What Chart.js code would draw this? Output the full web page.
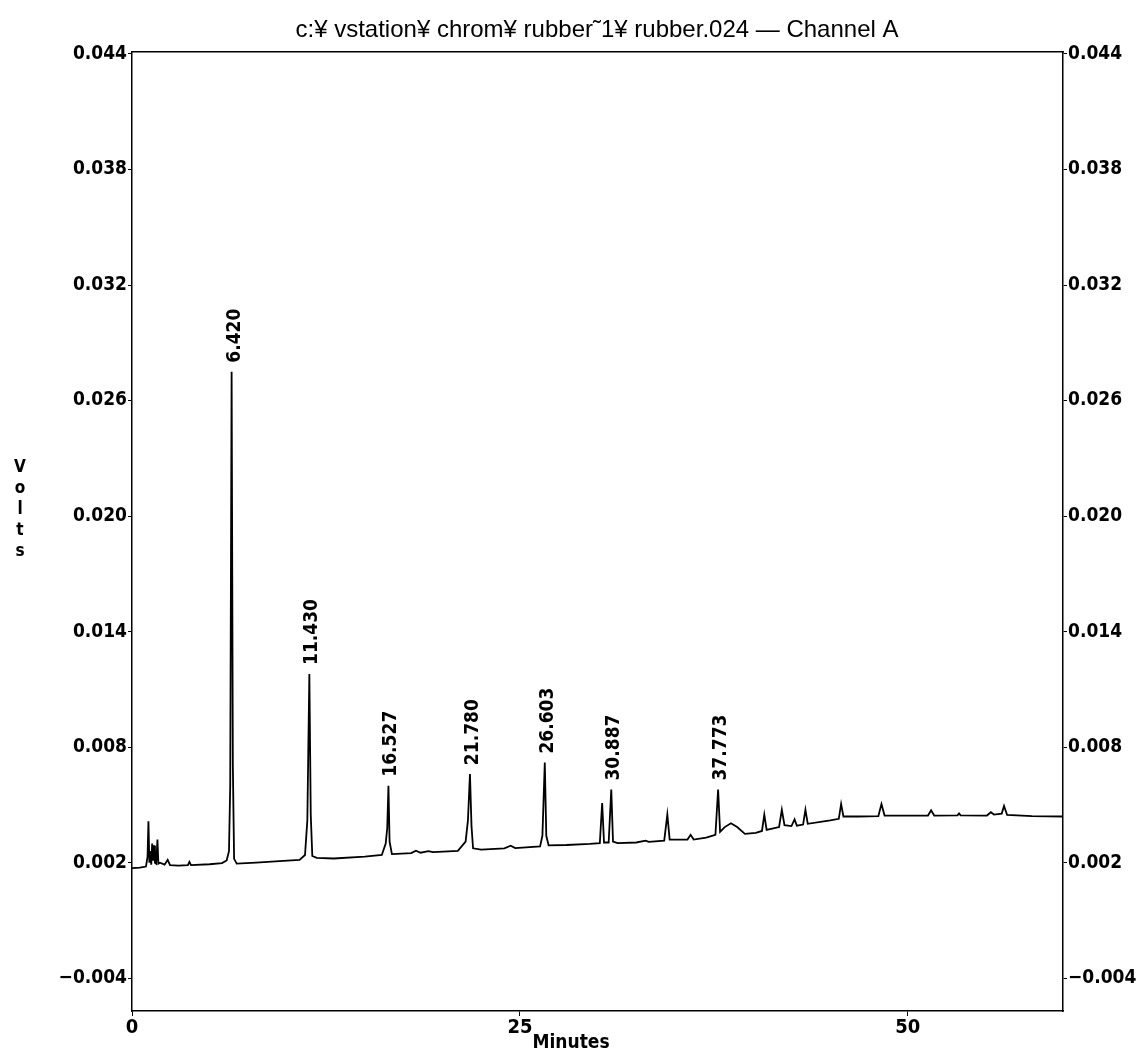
<!DOCTYPE html>
<html>
<head>
<meta charset="utf-8">
<title>rubber.024 — Channel A</title>
<script src="https://cdn.jsdelivr.net/npm/chart.js@4.4.1/dist/chart.umd.min.js"></script>
<style>
  html, body { margin: 0; padding: 0; background: #fff; }
  #wrap { width: 1148px; height: 1053px; }
</style>
</head>
<body>
<div id="wrap"><canvas id="chrom" width="1148" height="1053"></canvas></div>
<script>
// trace, minutes
var times = [
  0.00, 0.50, 0.90, 1.00, 1.06, 1.12, 1.18, 1.24, 1.30, 1.36, 1.42, 1.48, 1.56, 1.64, 1.70, 1.80,
  2.10, 2.30, 2.45, 3.00, 3.60, 3.70, 3.80, 5.00, 5.80,
  6.10, 6.25, 6.33, 6.420, 6.50, 6.58, 6.75, 8.00, 9.50,
  10.80, 11.15, 11.30, 11.430, 11.52, 11.62, 11.90, 13.00, 15.00,
  16.10, 16.35, 16.45, 16.527, 16.60, 16.75, 18.00, 18.30, 18.60, 19.10, 19.40,
  21.00, 21.50, 21.65, 21.780, 21.88, 21.98, 22.50, 24.00, 24.40, 24.70,
  26.30, 26.45, 26.603, 26.70, 26.85, 28.00, 29.50,
  30.15, 30.30, 30.42, 30.72, 30.887, 31.00, 31.30, 32.50, 33.10, 33.30,
  34.30, 34.50, 34.65, 35.80, 36.00, 36.20, 37.00, 37.60, 37.773, 37.90,
  38.20, 38.60, 39.00, 39.50, 40.20, 40.60, 40.75, 40.90, 41.70, 41.88, 42.05,
  42.50, 42.70, 42.85, 43.25, 43.40, 43.55, 45.00, 45.55, 45.70, 45.85, 46.80,
  48.10, 48.30, 48.50, 51.30, 51.50, 51.70, 53.20, 53.30, 53.40, 55.10, 55.35, 55.55,
  56.05, 56.20, 56.40, 58.00, 60.00
];
// volts, same order as times
var volts = [
  0.00172, 0.00175, 0.00180, 0.00230, 0.00415, 0.00200, 0.00260, 0.00190, 0.00300, 0.00210, 0.00290, 0.00200, 0.00195, 0.00320, 0.00195, 0.00200,
  0.00190, 0.00215, 0.00188, 0.00185, 0.00188, 0.00205, 0.00188, 0.00192, 0.00198,
  0.00212, 0.00260, 0.00600, 0.02750, 0.00700, 0.00220, 0.00195, 0.00200, 0.00208,
  0.00215, 0.00240, 0.00420, 0.01180, 0.00450, 0.00235, 0.00225, 0.00222, 0.00232,
  0.00240, 0.00300, 0.00380, 0.00600, 0.00310, 0.00245, 0.00250, 0.00262, 0.00252, 0.00260, 0.00255,
  0.00262, 0.00310, 0.00420, 0.00660, 0.00390, 0.00275, 0.00268, 0.00275, 0.00288, 0.00276,
  0.00285, 0.00340, 0.00720, 0.00340, 0.00290, 0.00292, 0.00298,
  0.00302, 0.00510, 0.00305, 0.00305, 0.00580, 0.00310, 0.00302, 0.00305, 0.00315, 0.00308,
  0.00315, 0.00450, 0.00320, 0.00320, 0.00345, 0.00320, 0.00330, 0.00345, 0.00580, 0.00360,
  0.00385, 0.00405, 0.00385, 0.00350, 0.00355, 0.00365, 0.00450, 0.00370, 0.00385, 0.00475, 0.00395,
  0.00390, 0.00425, 0.00392, 0.00398, 0.00475, 0.00402, 0.00420, 0.00428, 0.00505, 0.00440, 0.00440,
  0.00442, 0.00505, 0.00445, 0.00445, 0.00472, 0.00445, 0.00446, 0.00456, 0.00446, 0.00445, 0.00462, 0.00450,
  0.00455, 0.00495, 0.00448, 0.00442, 0.00440
];
// integrated peaks (retention times printed above them)
var peakTimes = [6.420, 11.430, 16.527, 21.780, 26.603, 30.887, 37.773];
var peakLabels = ['6.420', '11.430', '16.527', '21.780', '26.603', '30.887', '37.773'];

var xTicks = [0, 25, 50];
var yTicks = [-0.004, 0.002, 0.008, 0.014, 0.020, 0.026, 0.032, 0.038, 0.044];

var chartTitle = 'c:¥ vstation¥ chrom¥ rubber\u02dc1¥ rubber.024 — Channel A';
var FONT = "'DejaVu Sans Condensed', 'Liberation Sans', sans-serif";
var TITLE_FONT = "'Liberation Sans', Arial, sans-serif";

function voltLabel(v) {
  return (v < 0 ? '\u2212' : '') + Math.abs(v).toFixed(3);
}

var annotate = {
  id: 'annotate',
  afterDatasetsDraw: function(chart) {
    var ctx = chart.ctx, xs = chart.scales.x, ys = chart.scales.y;
    ctx.save();
    ctx.fillStyle = '#000';
    ctx.font = 'bold 19px ' + FONT;
    ctx.textAlign = 'left';
    ctx.textBaseline = 'middle';
    peakTimes.forEach(function(t, i) {
      var k = times.indexOf(t);
      var px = xs.getPixelForValue(t);
      var py = ys.getPixelForValue(volts[k]);
      ctx.save();
      ctx.translate(px + 3, py - 9);
      ctx.rotate(-Math.PI / 2);
      ctx.fillText(peakLabels[i], 0, 0);
      ctx.restore();
    });

    // title
    ctx.textAlign = 'center';
    ctx.font = '24px ' + TITLE_FONT;
    ctx.fillText(chartTitle, 597, 30);

    // axis titles
    ctx.font = 'bold 19px ' + FONT;
    ctx.fillText('Minutes', 571, 1043);
    ctx.font = 'bold 17px ' + FONT;
    'Volts'.split('').forEach(function(ch, i) {
      ctx.fillText(ch, 20, 468 + i * 21);
    });
    ctx.restore();
  }
};

var ctx = document.getElementById('chrom');
var chrom = new Chart(ctx, {
  type: 'line',
  data: {
    datasets: [{
      data: times.map(function(t, i) { return { x: t, y: volts[i] }; }),
      borderColor: '#000',
      borderWidth: 1.8,
      pointRadius: 0,
      fill: false,
      tension: 0
    }]
  },
  options: {
    responsive: false,
    animation: false,
    layout: { padding: { top: 52, left: 0, right: 0, bottom: 0 } },
    plugins: { legend: { display: false }, tooltip: { enabled: false }, title: { display: false } },
    scales: {
      x: {
        type: 'linear', position: 'bottom', min: 0, max: 60,
        afterFit: function(s) { s.height = 42; },
        afterBuildTicks: function(s) { s.ticks = xTicks.map(function(v) { return { value: v }; }); },
        ticks: { color: '#000', font: { family: FONT, size: 20, weight: 'bold' }, padding: 0, maxRotation: 0,
                 callback: function(v) { return String(v); } },
        grid: { drawOnChartArea: false, drawTicks: true, tickLength: 5, color: '#000' },
        border: { color: '#000', width: 1.5 }
      },
      xTop: {
        type: 'linear', position: 'top', min: 0, max: 60,
        afterFit: function(s) { s.height = 0; },
        ticks: { display: false },
        grid: { drawOnChartArea: false, drawTicks: false },
        border: { color: '#000', width: 1.5 }
      },
      y: {
        type: 'linear', position: 'left', min: -0.0057, max: 0.0441,
        afterFit: function(s) { s.width = 132; },
        afterBuildTicks: function(s) { s.ticks = yTicks.map(function(v) { return { value: v }; }); },
        ticks: { color: '#000', font: { family: FONT, size: 19, weight: 'bold' }, padding: 1, callback: voltLabel },
        grid: { drawOnChartArea: false, drawTicks: true, tickLength: 4, color: '#000' },
        border: { color: '#000', width: 1.5 }
      },
      y2: {
        type: 'linear', position: 'right', min: -0.0057, max: 0.0441,
        afterFit: function(s) { s.width = 85; },
        afterBuildTicks: function(s) { s.ticks = yTicks.map(function(v) { return { value: v }; }); },
        ticks: { color: '#000', font: { family: FONT, size: 19, weight: 'bold' }, padding: 1, callback: voltLabel },
        grid: { drawOnChartArea: false, drawTicks: true, tickLength: 4, color: '#000' },
        border: { color: '#000', width: 1.5 }
      }
    }
  },
  plugins: [annotate]
});
</script>
</body>
</html>
